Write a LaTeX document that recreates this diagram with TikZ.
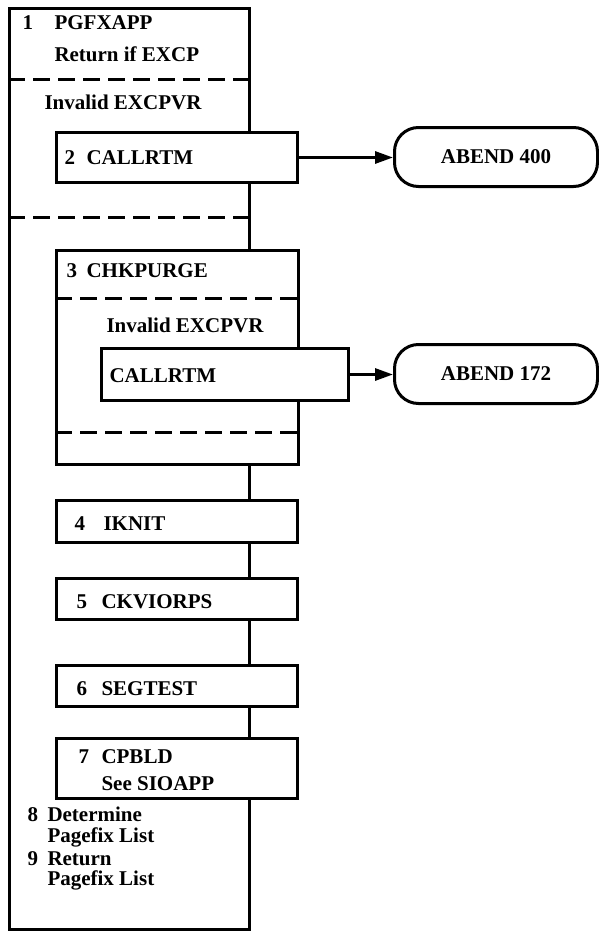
\documentclass[tikz,border=0pt]{standalone}
\usepackage{fontspec}
\setmainfont{Liberation Serif}
\usepackage{tikz}
\usetikzlibrary{arrows.meta}

\tikzset{
  box/.style={draw, fill=white, anchor=north west, inner sep=0pt},
  txt/.style={anchor=base west, inner sep=0pt},
  divider/.style={dash pattern=on 17pt off 8pt},
  abend/.style={draw, rounded corners=24pt, anchor=north west, inner sep=0pt},
}

\begin{document}
\begin{tikzpicture}[x=1pt, y=-1pt, line width=3pt, font=\fontsize{21}{23}\selectfont\bfseries]
\useasboundingbox (0,0) rectangle (598,934);
\node[box, minimum width=240pt, minimum height=921pt] (pgfxapp) at (8,7) {};
\node[txt] (n1) at (21,30) {1};
\node[txt] (t1) at (53,30) {PGFXAPP};
\node[txt] (retexcp) at (53,62) {Return if EXCP};
\draw[divider] (8,79) -- (248,79);
\node[txt] (inv1) at (43,109) {Invalid EXCPVR};
\node[box, minimum width=241pt, minimum height=50pt] (callrtm) at (55,131) {};
\node[txt] (n2) at (63,164) {2};
\node[txt] (t2) at (85,164) {CALLRTM};
\draw[divider] (8,217) -- (248,217);
\node[box, minimum width=242pt, minimum height=214pt] (chkpurge) at (55,249) {};
\node[txt] (n3) at (65,277) {3};
\node[txt] (t3) at (85,277) {CHKPURGE};
\draw[divider] (55,298) -- (297,298);
\node[txt] (inv2) at (105,332) {Invalid EXCPVR};
\node[box, minimum width=247pt, minimum height=52pt] (callrtmb) at (100,347) {};
\node[txt] (t3b) at (108,382) {CALLRTM};
\draw[divider] (55,432) -- (297,432);
\node[box, minimum width=241pt, minimum height=42pt] (iknit) at (55,499) {};
\node[txt] (n4) at (73,530) {4};
\node[txt] (t4) at (102,530) {IKNIT};
\node[box, minimum width=241pt, minimum height=41pt] (ckviorps) at (55,577) {};
\node[txt] (n5) at (75,608) {5};
\node[txt] (t5) at (100,608) {CKVIORPS};
\node[box, minimum width=241pt, minimum height=41pt] (segtest) at (55,664) {};
\node[txt] (n6) at (75,695) {6};
\node[txt] (t6) at (100,695) {SEGTEST};
\node[box, minimum width=241pt, minimum height=60pt] (cpbld) at (55,737) {};
\node[txt] (n7) at (77,763) {7};
\node[txt] (t7) at (100,763) {CPBLD};
\node[txt] (sioapp) at (100,790) {See SIOAPP};
\node[txt] (n8) at (26,821) {8};
\node[txt] (t8) at (46,821) {Determine};
\node[txt] (t8b) at (46,842) {Pagefix List};
\node[txt] (n9) at (26,865) {9};
\node[txt] (t9) at (46,865) {Return};
\node[txt] (t9b) at (46,885) {Pagefix List};
\node[abend, minimum width=203pt, minimum height=59pt] (abend400) at (393,126) {ABEND 400};
\node[abend, minimum width=203pt, minimum height=59pt] (abend172) at (393,343) {ABEND 172};
\draw[-{Triangle[length=18pt,width=12pt]}] (callrtm.east) -- (callrtm.east -| abend400.west);
\draw[-{Triangle[length=18pt,width=12pt]}] (callrtmb.east) -- (callrtmb.east -| abend172.west);
\end{tikzpicture}
\end{document}
